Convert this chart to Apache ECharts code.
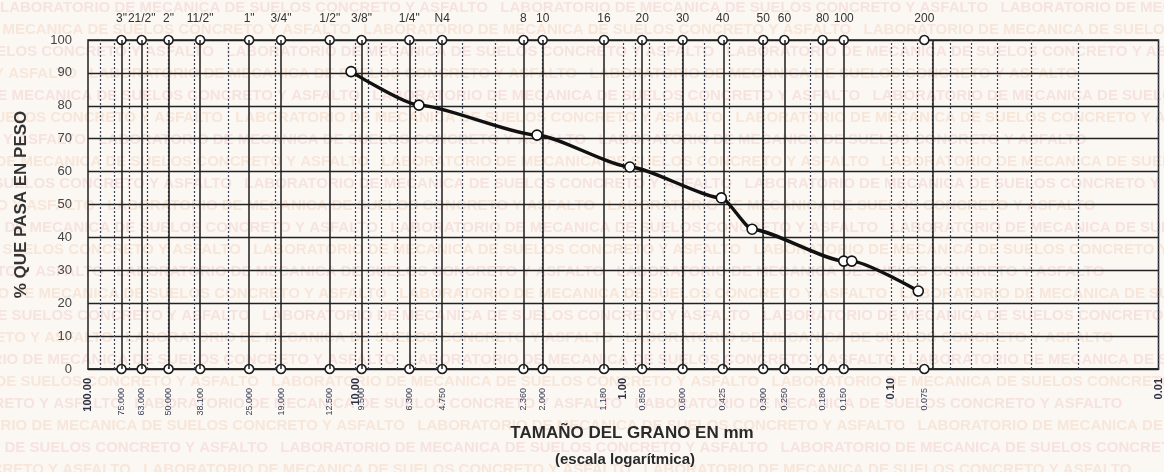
<!DOCTYPE html>
<html>
<head>
<meta charset="utf-8">
<script src="https://cdn.jsdelivr.net/npm/echarts@6/dist/echarts.min.js"></script>
<style>
  html, body { margin: 0; padding: 0; background: #fbf7f3; }
  #chart { width: 1164px; height: 472px; }
</style>
</head>
<body>
<div id="chart"></div>
<script>
// mallas (tamiz) y su abertura en mm
const sieveNames = ['3"', '21/2"', '2"', '11/2"', '1"', '3/4"', '1/2"', '3/8"', '1/4"', 'N4',
  '8', '10', '16', '20', '30', '40', '50', '60', '80', '100', '200'];
const sieveSizes = [75, 63, 50, 38.1, 25, 19, 12.5, 9.5, 6.3, 4.75,
  2.36, 2.0, 1.18, 0.85, 0.6, 0.425, 0.3, 0.25, 0.18, 0.15, 0.075];
const sizeLabels = ['75.000', '63.000', '50.000', '38.100', '25.000', '19.000', '12.500', '9.500', '6.300', '4.750',
  '2.360', '2.000', '1.180', '0.850', '0.600', '0.425', '0.300', '0.250', '0.180', '0.150', '0.075'];

// divisiones logaritmicas
const decadeValues = [100, 10, 1, 0.1, 0.01];
const decadeLabels = ['100.00', '10.00', '1.00', '0.10', '0.01'];

// curva granulometrica
const grainSize = [10.4, 5.8, 2.1, 0.945, 0.43, 0.33, 0.15, 0.14, 0.079];
const passing = [90.4, 80.2, 71.1, 61.4, 52.0, 42.5, 32.8, 32.8, 23.7];

const FONT = '"Liberation Sans", Arial, sans-serif';

// lineas menores (1..9 por decada)
const minorLines = [];
[0.01, 0.1, 1, 10].forEach(d => {
  for (let m = 1; m <= 9; m++) minorLines.push(+(m * d).toPrecision(3));
});

const pick = (vals, labels) => (v) => {
  const i = vals.findIndex(s => Math.abs(s - v) <= s * 1e-6);
  return i >= 0 ? labels[i] : '';
};

const logAxis = {
  type: 'log',
  logBase: 10,
  inverse: true,
  min: 0.01,
  max: 100,
  splitLine: { show: false },
  axisTick: { show: false },
  axisLine: { show: false }
};

// marca de agua del laboratorio
const watermark = [];
const wmText = 'LABORATORIO DE MECANICA DE SUELOS CONCRETO Y ASFALTO   ';
for (let r = 0; r < 22; r++) {
  watermark.push({
    type: 'text',
    z: -10,
    silent: true,
    x: -((r * 137) % 420),
    y: r * 22,
    style: {
      text: wmText.repeat(3),
      fill: r % 2 ? 'rgba(236, 165, 120, 0.2)' : 'rgba(230, 140, 140, 0.18)',
      font: 'bold 15px ' + FONT
    }
  });
}

const chart = echarts.init(document.getElementById('chart'));

chart.setOption({
  backgroundColor: '#fbf7f3',
  animation: false,
  graphic: watermark.concat([
    {
      type: 'text',
      x: 632, y: 433,
      style: {
        text: 'TAMAÑO DEL GRANO EN mm',
        fill: '#2a2a2a',
        font: 'bold 17px ' + FONT,
        textAlign: 'center',
        textVerticalAlign: 'middle'
      }
    },
    {
      type: 'text',
      x: 625, y: 460,
      style: {
        text: '(escala logarítmica)',
        fill: '#2a2a2a',
        font: 'bold 15px ' + FONT,
        textAlign: 'center',
        textVerticalAlign: 'middle'
      }
    }
  ]),
  grid: {
    left: 88,
    right: 4,
    top: 40,
    bottom: 103,
    show: true,
    borderColor: '#222',
    borderWidth: 1.5
  },
  xAxis: [
    Object.assign({}, logAxis, {
      position: 'bottom',
      axisLine: { show: true, lineStyle: { color: '#222', width: 1.5 } },
      axisLabel: {
        customValues: decadeValues,
        formatter: pick(decadeValues, decadeLabels),
        rotate: 90,
        margin: 9,
        fontSize: 11,
        fontWeight: 'bold',
        fontFamily: FONT,
        color: '#2b3045'
      }
    }),
    Object.assign({}, logAxis, {
      position: 'bottom',
      axisLabel: {
        customValues: sieveSizes,
        formatter: pick(sieveSizes, sizeLabels),
        rotate: 90,
        margin: 19,
        fontSize: 9,
        fontFamily: FONT,
        color: '#3a4058'
      }
    }),
    Object.assign({}, logAxis, {
      position: 'top',
      axisLabel: {
        customValues: sieveSizes,
        formatter: pick(sieveSizes, sieveNames),
        margin: 15,
        fontSize: 12,
        fontFamily: FONT,
        color: '#333'
      }
    })
  ],
  yAxis: {
    type: 'value',
    min: 0,
    max: 100,
    interval: 10,
    name: '% QUE PASA EN PESO',
    nameLocation: 'middle',
    nameGap: 58,
    nameTextStyle: { fontSize: 17, fontWeight: 'bold', fontFamily: FONT, color: '#333' },
    axisLine: { show: false },
    axisTick: { show: false },
    axisLabel: { margin: 16, fontSize: 13, fontFamily: FONT, color: '#444' },
    splitLine: { lineStyle: { color: '#222', width: 1.4 } }
  },
  series: [
    {
      // lineas logaritmicas menores
      type: 'line',
      data: [],
      silent: true,
      markLine: {
        symbol: 'none',
        silent: true,
        label: { show: false },
        lineStyle: { color: '#3d4458', width: 1.2, type: [2, 2] },
        data: minorLines.map(v => ({ xAxis: v }))
      }
    },
    {
      // lineas de las mallas
      type: 'line',
      data: [],
      silent: true,
      markLine: {
        symbol: 'none',
        silent: true,
        label: { show: false },
        lineStyle: { color: '#1e1e1e', width: 1.5, type: 'solid' },
        data: sieveSizes.map(v => ({ xAxis: v }))
      }
    },
    {
      type: 'scatter',
      symbol: 'circle',
      symbolSize: 9,
      z: 4,
      itemStyle: { color: '#fff', borderColor: '#1e1e1e', borderWidth: 1.6, opacity: 1 },
      data: sieveSizes.map(v => [v, 100]).concat(sieveSizes.map(v => [v, 0]))
    },
    {
      type: 'line',
      smooth: 0.2,
      smoothMonotone: 'x',
      symbol: 'circle',
      symbolSize: 10,
      z: 5,
      lineStyle: { color: '#111', width: 3.4 },
      itemStyle: { color: '#fff', borderColor: '#111', borderWidth: 1.6 },
      data: grainSize.map((g, i) => [g, passing[i]])
    }
  ]
});
</script>
</body>
</html>
